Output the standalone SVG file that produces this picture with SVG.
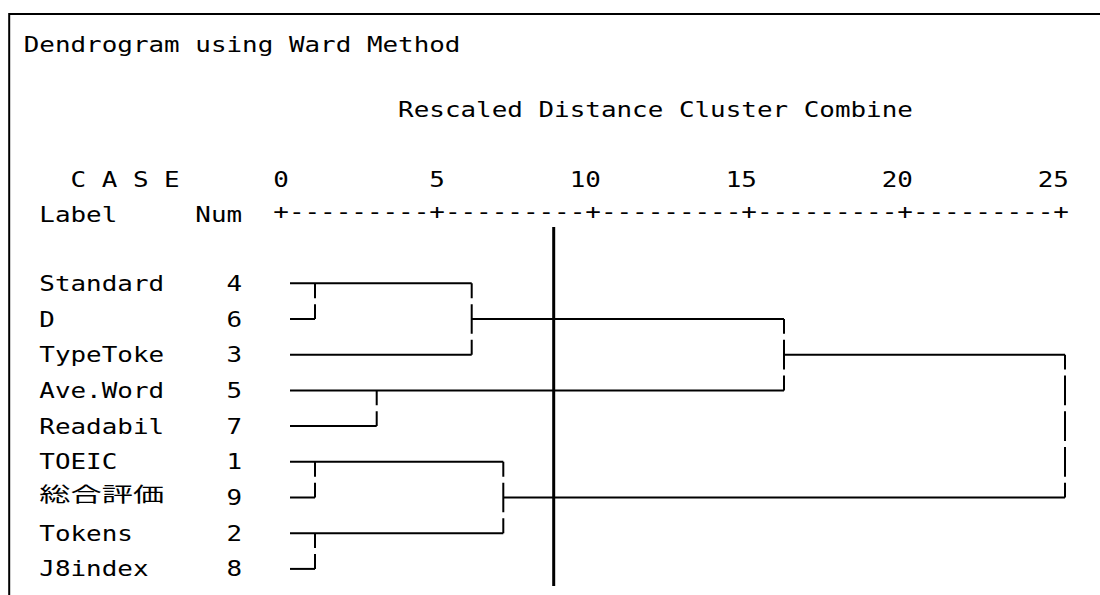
<svg xmlns="http://www.w3.org/2000/svg" width="1100" height="595" viewBox="0 0 1100 595">
<style>
  .t { font-family: "DejaVu Sans Mono", "Liberation Mono", monospace; font-size: 21px; fill: #000; }
  .j { font-family: "Noto Sans CJK JP", "DejaVu Sans", sans-serif; font-size: 20px; fill: #000; }
  .h { stroke: #000; stroke-width: 2; fill: none; }
  .v { stroke: #000; stroke-width: 2; fill: none; stroke-dasharray: 29.7 6; stroke-dashoffset: 14.85; }
  .cut { stroke: #000; stroke-width: 3; }
  .frame { stroke: #000; stroke-width: 2; fill: none; }
</style>
<rect x="0" y="0" width="1100" height="595" fill="#fff"/>
<path class="frame" d="M9.2 595 V14 H1100"/>

<g id="header">
  <text class="t" x="23.7" y="52" textLength="436.8" lengthAdjust="spacingAndGlyphs">Dendrogram using Ward Method</text>
  <text class="t" x="398.1" y="117" textLength="514.8" lengthAdjust="spacingAndGlyphs">Rescaled Distance Cluster Combine</text>
  <text class="t" x="70.5" y="187" textLength="109.2" lengthAdjust="spacingAndGlyphs" xml:space="preserve">C A S E</text>
  <text class="t" x="39.3" y="222" textLength="78" lengthAdjust="spacingAndGlyphs">Label</text>
  <text class="t" x="195.3" y="222" textLength="46.8" lengthAdjust="spacingAndGlyphs">Num</text>
</g>

<g id="axis">
  <text class="t" x="273.3" y="187" textLength="15.6" lengthAdjust="spacingAndGlyphs">0</text>
  <text class="t" x="429.3" y="187" textLength="15.6" lengthAdjust="spacingAndGlyphs">5</text>
  <text class="t" x="569.7" y="187" textLength="31.2" lengthAdjust="spacingAndGlyphs">10</text>
  <text class="t" x="725.7" y="187" textLength="31.2" lengthAdjust="spacingAndGlyphs">15</text>
  <text class="t" x="881.7" y="187" textLength="31.2" lengthAdjust="spacingAndGlyphs">20</text>
  <text class="t" x="1037.7" y="187" textLength="31.2" lengthAdjust="spacingAndGlyphs">25</text>
  <text class="t" x="273.3" y="219" textLength="795.6" lengthAdjust="spacingAndGlyphs">+---------+---------+---------+---------+---------+</text>
</g>

<g id="case-4"><text class="t" x="39.3" y="290.8" textLength="124.8" lengthAdjust="spacingAndGlyphs">Standard</text><text class="t" x="226.5" y="290.8" textLength="15.6" lengthAdjust="spacingAndGlyphs">4</text></g>
<g id="case-6"><text class="t" x="39.3" y="326.5" textLength="15.6" lengthAdjust="spacingAndGlyphs">D</text><text class="t" x="226.5" y="326.5" textLength="15.6" lengthAdjust="spacingAndGlyphs">6</text></g>
<g id="case-3"><text class="t" x="39.3" y="362.2" textLength="124.8" lengthAdjust="spacingAndGlyphs">TypeToke</text><text class="t" x="226.5" y="362.2" textLength="15.6" lengthAdjust="spacingAndGlyphs">3</text></g>
<g id="case-5"><text class="t" x="39.3" y="397.9" textLength="124.8" lengthAdjust="spacingAndGlyphs">Ave.Word</text><text class="t" x="226.5" y="397.9" textLength="15.6" lengthAdjust="spacingAndGlyphs">5</text></g>
<g id="case-7"><text class="t" x="39.3" y="433.6" textLength="124.8" lengthAdjust="spacingAndGlyphs">Readabil</text><text class="t" x="226.5" y="433.6" textLength="15.6" lengthAdjust="spacingAndGlyphs">7</text></g>
<g id="case-1"><text class="t" x="39.3" y="469.3" textLength="78" lengthAdjust="spacingAndGlyphs">TOEIC</text><text class="t" x="226.5" y="469.3" textLength="15.6" lengthAdjust="spacingAndGlyphs">1</text></g>
<g id="case-9"><text class="j" x="39.3" y="501.5" textLength="124.8" lengthAdjust="spacingAndGlyphs">総合評価</text><text class="t" x="226.5" y="505" textLength="15.6" lengthAdjust="spacingAndGlyphs">9</text></g>
<g id="case-2"><text class="t" x="39.3" y="540.7" textLength="93.6" lengthAdjust="spacingAndGlyphs">Tokens</text><text class="t" x="226.5" y="540.7" textLength="15.6" lengthAdjust="spacingAndGlyphs">2</text></g>
<g id="case-8"><text class="t" x="39.3" y="576.4" textLength="109.2" lengthAdjust="spacingAndGlyphs">J8index</text><text class="t" x="226.5" y="576.4" textLength="15.6" lengthAdjust="spacingAndGlyphs">8</text></g>

<g id="connectors">
  <!-- horizontals -->
  <path class="h" d="M290 283.3 H471.7"/>
  <path class="h" d="M290 319 H315"/>
  <path class="h" d="M471.7 319 H784"/>
  <path class="h" d="M290 354.7 H471.7"/>
  <path class="h" d="M784 354.7 H1065"/>
  <path class="h" d="M290 390.4 H784"/>
  <path class="h" d="M290 426.1 H376.7"/>
  <path class="h" d="M290 461.8 H503.3"/>
  <path class="h" d="M290 497.5 H315"/>
  <path class="h" d="M503.3 497.5 H1065"/>
  <path class="h" d="M290 533.2 H503.3"/>
  <path class="h" d="M290 568.9 H315"/>
  <!-- verticals -->
  <path class="v" d="M315 283.3 V319"/>
  <path class="v" d="M471.7 283.3 V354.7"/>
  <path class="v" d="M376.7 390.4 V426.1"/>
  <path class="v" d="M784 319 V390.4"/>
  <path class="v" d="M315 461.8 V497.5"/>
  <path class="v" d="M315 533.2 V568.9"/>
  <path class="v" d="M503.3 461.8 V533.2"/>
  <path class="v" d="M1065 354.7 V497.5"/>
  <!-- cut line -->
  <line class="cut" x1="553.7" y1="227" x2="553.7" y2="586"/>
</g>
</svg>
